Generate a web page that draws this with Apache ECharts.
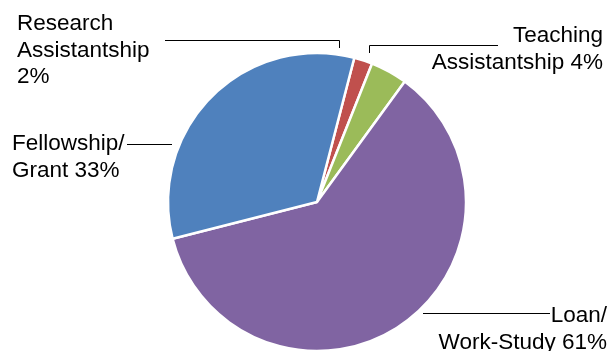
<!DOCTYPE html>
<html>
<head>
<meta charset="utf-8">
<script src="https://cdn.jsdelivr.net/npm/echarts@6/dist/echarts.min.js"></script>
<style>
html,body{margin:0;padding:0;background:#fff;}
#main{width:610px;height:351px;}
</style>
</head>
<body>
<div id="main"></div>
<script>
// Data
const categories = ["Research Assistantship", "Teaching Assistantship", "Loan/ Work-Study", "Fellowship/ Grant"];
const values = [2, 4, 61, 33];
const labelTexts = ["Research\nAssistantship\n2%", "Teaching\nAssistantship 4%", "Loan/\nWork-Study 61%", "Fellowship/\nGrant 33%"];
const colors = ["#C0504D", "#9BBB59", "#8064A2", "#4F81BD"];

// label placement (text box anchor + leader line)
const labelPlacement = [
  {x: 17, y: 11, align: 'left', line: [[165, 40.5], [339.5, 40.5], [339.5, 48]]},
  {x: 603, y: 23, align: 'right', line: [[498, 45.5], [369.5, 45.5], [369.5, 53]]},
  {x: 607, y: 303, align: 'right', line: [[423, 313.5], [550, 313.5]]},
  {x: 12, y: 131, align: 'left', line: [[127, 144.5], [172, 144.5]]}
];

const chart = echarts.init(document.getElementById('main'));
chart.setOption({
  animation: false,
  backgroundColor: '#ffffff',
  series: [{
    type: 'pie',
    center: [317, 202],
    radius: 149,
    startAngle: 75.5,
    clockwise: true,
    avoidLabelOverlap: false,
    data: categories.map((c, i) => ({
      name: c,
      value: values[i],
      itemStyle: {color: colors[i]},
      label: {formatter: labelTexts[i]}
    })),
    itemStyle: {borderColor: '#ffffff', borderWidth: 2.5},
    label: {
      show: true,
      color: '#000000',
      fontFamily: '"Liberation Sans", Arial, sans-serif',
      fontSize: 22.5,
      lineHeight: 26.5
    },
    labelLine: {
      show: true,
      lineStyle: {color: '#000000', width: 1}
    },
    labelLayout: function (params) {
      const p = labelPlacement[params.dataIndex];
      return {
        x: p.x,
        y: p.y,
        align: p.align,
        verticalAlign: 'top',
        labelLinePoints: p.line
      };
    },
    emphasis: {disabled: true}
  }]
});
</script>
</body>
</html>
